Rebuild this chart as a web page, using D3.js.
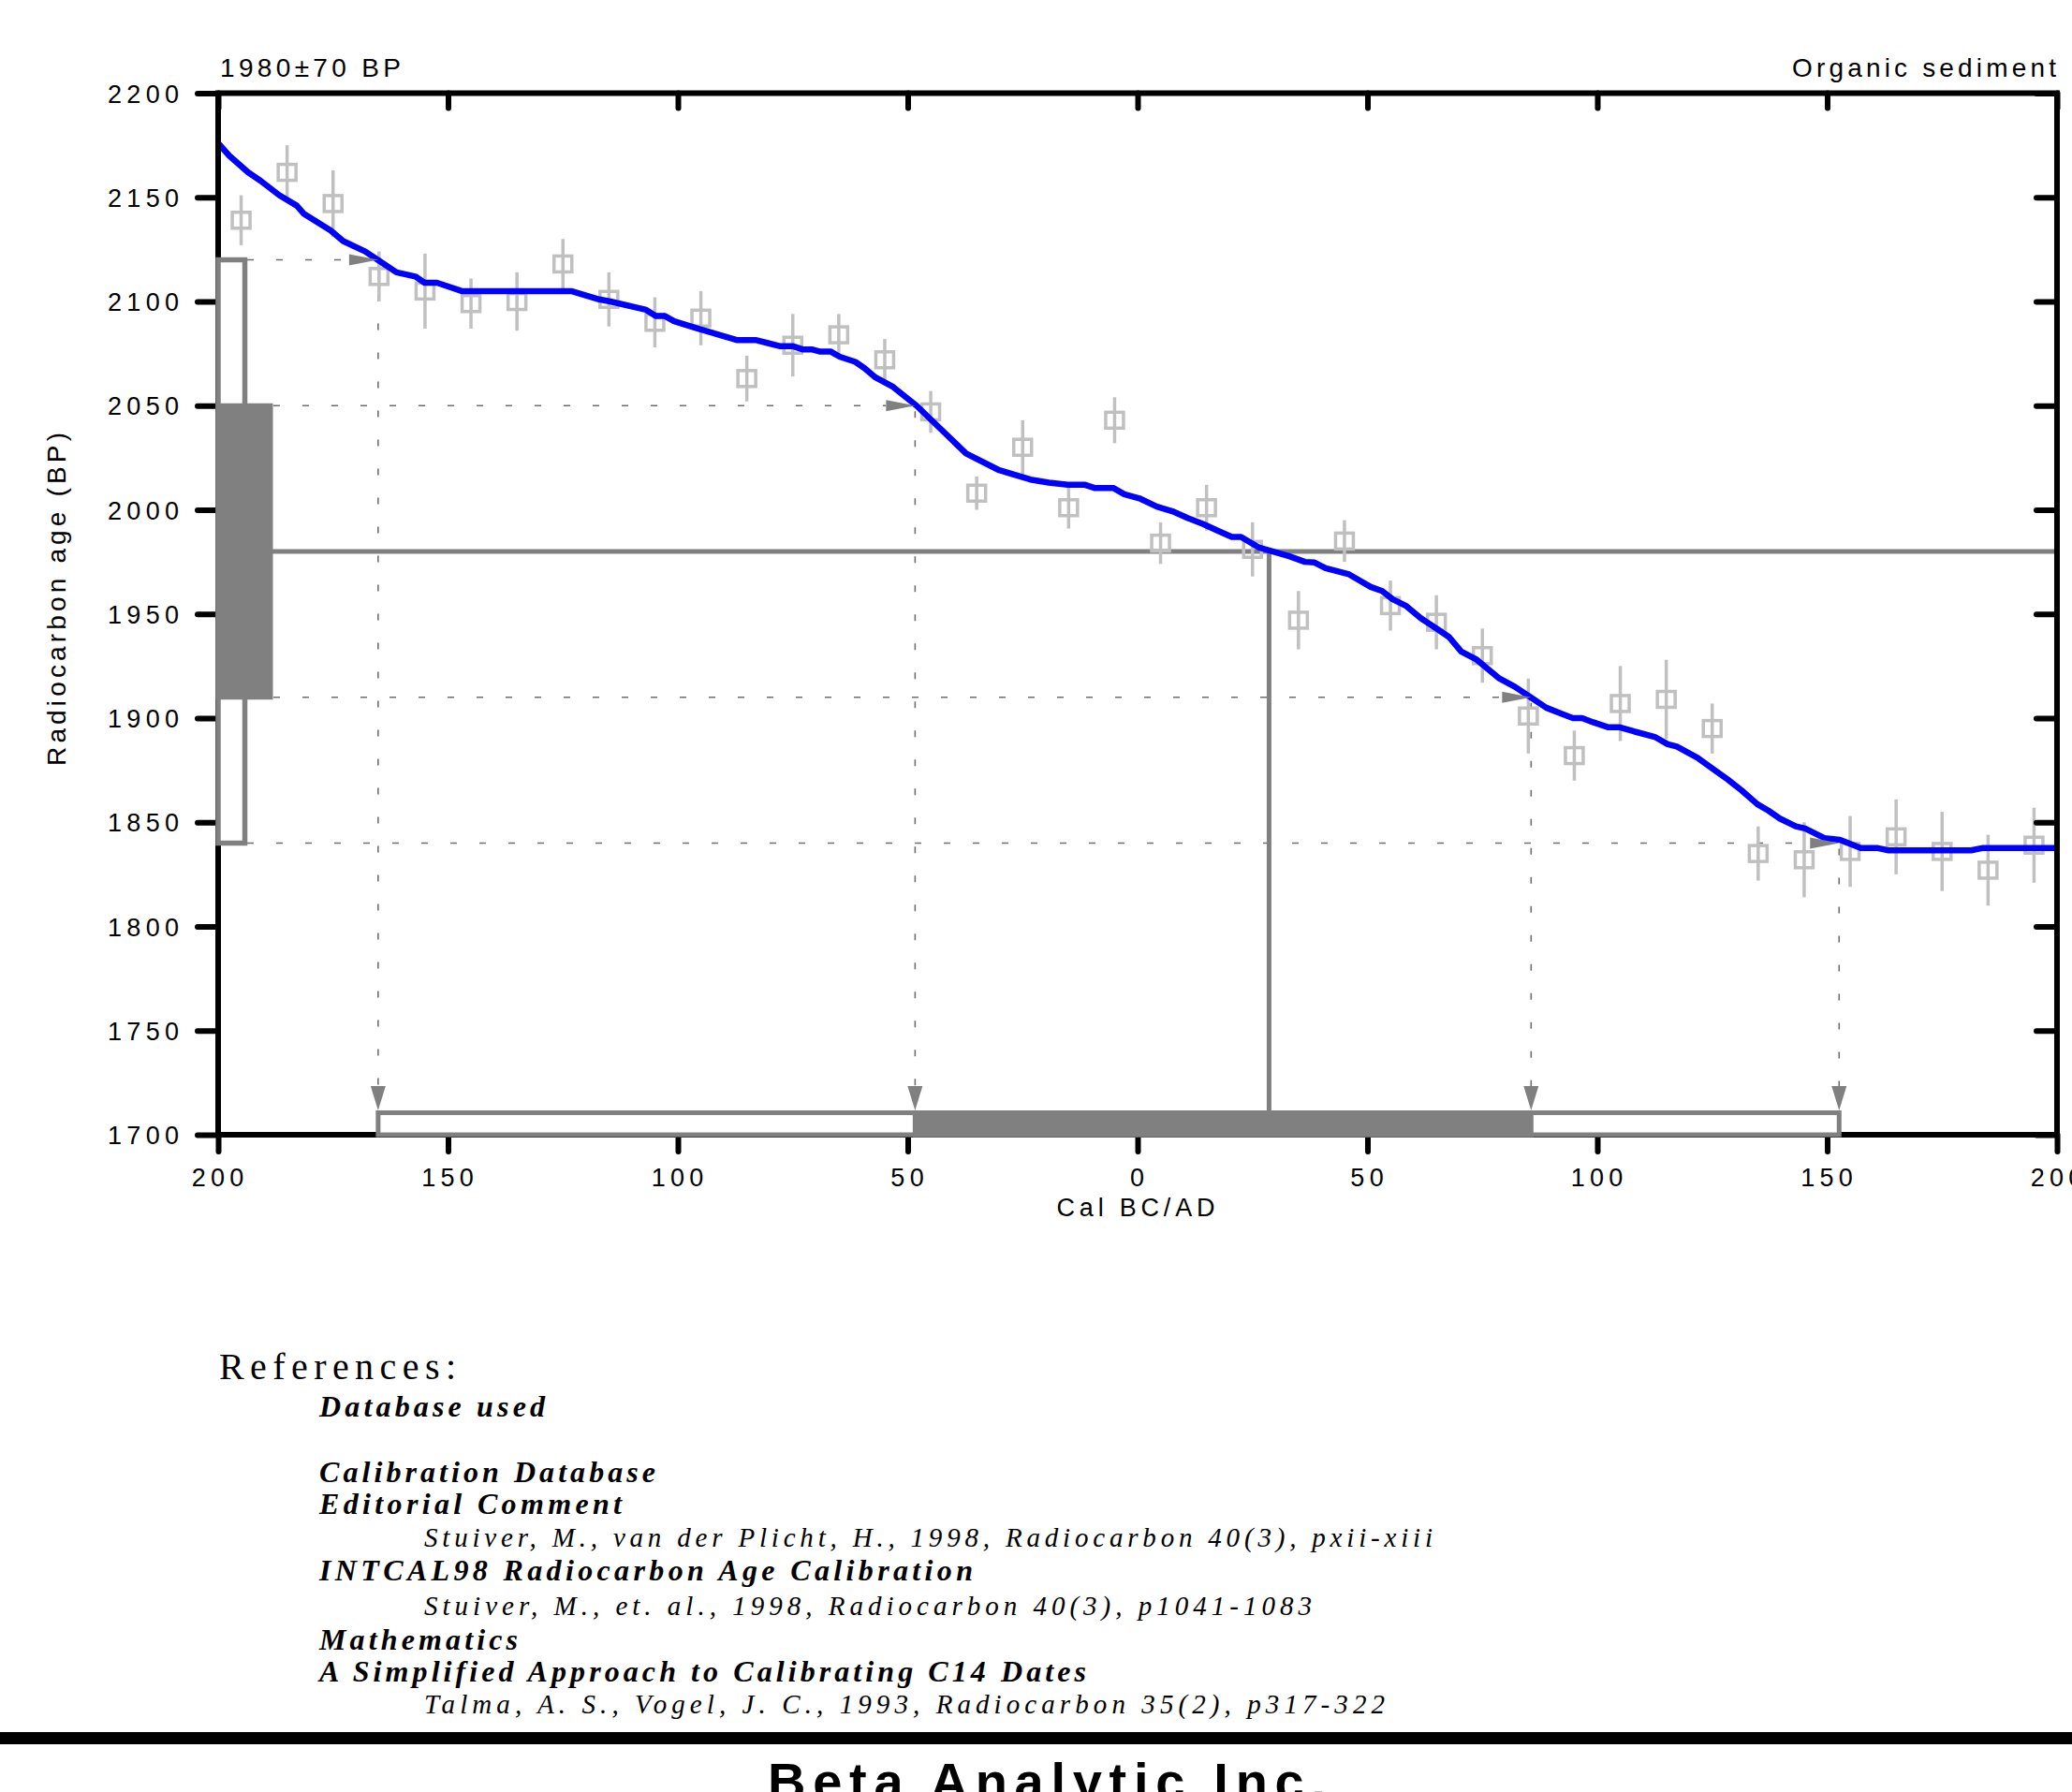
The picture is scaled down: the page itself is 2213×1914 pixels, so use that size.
<!DOCTYPE html>
<html>
<head>
<meta charset="utf-8">
<script src="https://cdn.jsdelivr.net/npm/d3@7"></script>
<style>
  html, body { margin: 0; padding: 0; background: #fff; overflow: hidden; }
  svg { display: block; background: #fff; }
</style>
</head>
<body>
<svg id="chart" width="2213" height="1914"></svg>
<script>
// sample
const sampleLabel = "1980\u00b170 BP";
const materialLabel = "Organic sediment";
const measuredAge = 1980;
const measuredSigma = 70;

// calibration curve (cal year, radiocarbon age)
const curveYears = [-200, -197.6, -193.5, -190.8, -186.7, -182.9, -181.3, -175.5, -172.8, -168, -165.3, -161.2, -157.1, -155.1, -152.4, -147, -123.2, -117.1, -114.7, -106.9, -104.8, -102.8, -100.8, -95.7, -87.2, -83.1, -80.4, -77.7, -74.9, -72.9, -70.9, -69.2, -66.8, -64.8, -61.4, -59.4, -57, -53.2, -48.1, -43.4, -37.3, -30.1, -23.3, -19.3, -15.2, -11.4, -9.4, -5.3, -2.9, 0.4, 4.2, 7.9, 11, 14.4, 17.4, 20.5, 22.5, 26.3, 28.6, 33, 36.4, 38.5, 40.9, 46, 50.7, 53.2, 55.5, 58.3, 61.6, 65, 67.7, 70.4, 73.8, 78.7, 82.1, 85.5, 88.9, 92.3, 94.7, 96.7, 99.1, 102.4, 104.9, 108, 112.5, 115.3, 117.3, 121.8, 124.9, 128.4, 131.4, 134.8, 137.2, 139.7, 143.2, 145.2, 149.4, 152.8, 157.3, 161, 163.4, 181.3, 183.7, 200];
const curveAges = [2176, 2170, 2162, 2158, 2151, 2146, 2142, 2134, 2129, 2124, 2120, 2114, 2112, 2109, 2109, 2105, 2105, 2101, 2100, 2096, 2093, 2093, 2090.5, 2087, 2081.5, 2081.5, 2080, 2078.5, 2078.5, 2077, 2077, 2076, 2076, 2073.5, 2071, 2068, 2063.5, 2059, 2050, 2040, 2027, 2019, 2014.5, 2013, 2012, 2012, 2010.5, 2010.5, 2007.5, 2005.5, 2001.5, 1999, 1996, 1993, 1990, 1987, 1987, 1982, 1980.5, 1977.7, 1975, 1974.7, 1972, 1969, 1963, 1961, 1957, 1954, 1948, 1943, 1939, 1932, 1928, 1919, 1915, 1910, 1905, 1902, 1900, 1900, 1898, 1895.6, 1895.6, 1893.6, 1891, 1887.5, 1886.3, 1881, 1876, 1870.5, 1865.3, 1858.7, 1855.6, 1851.8, 1848, 1847, 1842.4, 1841.6, 1837.6, 1837.6, 1836.5, 1836.5, 1837.6, 1837.6];

// decadal data points with 1 sigma errors
const pointYears = [-195, -185, -175, -165, -155, -145, -135, -125, -115, -105, -95, -85, -75, -65, -55, -45, -35, -25, -15, -5, 5, 15, 25, 35, 45, 55, 65, 75, 85, 95, 105, 115, 125, 135, 145, 155, 165, 175, 185, 195];
const pointAges = [2139, 2162, 2147, 2112, 2105, 2099, 2100, 2118, 2101, 2090, 2092, 2063, 2079, 2084, 2072, 2047, 2008, 2030, 2001, 2043, 1984, 2001, 1981, 1947, 1985, 1954, 1946, 1930, 1901, 1882, 1907, 1909, 1895, 1835, 1832, 1836, 1843, 1836, 1827, 1839];
const pointErrors = [12, 13, 16, 12, 18, 12, 14, 12, 13, 12, 13, 11, 15, 10, 10, 10, 8, 13, 10, 11, 10, 11, 13, 14, 10, 12, 13, 13, 18, 12, 18, 19, 12, 13, 18, 17, 18, 19, 17, 18];

// calibrated result
const interceptYear = 28.6;
const oneSigmaYears = [-48.4, 85.6];
const twoSigmaYears = [-165.2, 152.6];

// axes
const xTicks = [-200, -150, -100, -50, 0, 50, 100, 150, 200];
const yTicks = [1700, 1750, 1800, 1850, 1900, 1950, 2000, 2050, 2100, 2150, 2200];
const xTitle = "Cal BC/AD";
const yTitle = "Radiocarbon age (BP)";

// references block
const refTitle = "References:";
const refLines = [
  "Database used",
  "Calibration Database",
  "Editorial Comment",
  "Stuiver, M., van der Plicht, H., 1998, Radiocarbon 40(3), pxii-xiii",
  "INTCAL98 Radiocarbon Age Calibration",
  "Stuiver, M., et. al., 1998, Radiocarbon 40(3), p1041-1083",
  "Mathematics",
  "A Simplified Approach to Calibrating C14 Dates",
  "Talma, A. S., Vogel, J. C., 1993, Radiocarbon 35(2), p317-322"
];
const footerText = "Beta Analytic Inc.";

// ---------------------------------------------------------------
const SANS = '"Liberation Sans", Arial, sans-serif';
const SERIF = '"Liberation Serif", "Times New Roman", serif';
const GREY = "#808080";
const LIGHT = "#c0c0c0";

const svg = d3.select("#chart");
const W = 2213;

const x = d3.scaleLinear().domain([-200, 200]).range([233, 2197]);
const y = d3.scaleLinear().domain([1700, 2200]).range([1212, 99.5]);
const x0 = x.range()[0], x1 = x.range()[1];
const yBot = y.range()[0], yTop = y.range()[1];

// box sizes along the axes
const yBoxOuter = 31, yBoxInner = 59;   // widths of the 2 sigma / 1 sigma boxes on the y axis
const xBoxTop = yBot - 26;             // top of the boxes on the x axis
const arrowLen = 31, arrowHalf = 6;
const vArrowLen = 26, vArrowHalf = 8;

// text with stretched letter spacing to a fixed width
function spacedText(g, str, opts) {
  const t = g.append("text")
    .attr("font-family", opts.family)
    .attr("font-size", opts.size)
    .attr("font-weight", opts.weight || "normal")
    .attr("font-style", opts.style || "normal")
    .attr("fill", "#000")
    .text(str);
  let x = opts.x;
  if (opts.anchor === "middle") x -= opts.width / 2;
  if (opts.anchor === "end") x -= opts.width;
  t.attr("x", x).attr("y", opts.y)
    .attr("textLength", opts.width)
    .attr("lengthAdjust", "spacing");
  return t;
}

// dotted guide lines
const levels = [
  { age: measuredAge + 2 * measuredSigma, year: twoSigmaYears[0], from: x0 + yBoxOuter },
  { age: measuredAge + measuredSigma, year: oneSigmaYears[0], from: x0 + yBoxInner },
  { age: measuredAge - measuredSigma, year: oneSigmaYears[1], from: x0 + yBoxInner },
  { age: measuredAge - 2 * measuredSigma, year: twoSigmaYears[1], from: x0 + yBoxOuter }
];
const guides = svg.append("g")
  .attr("stroke", "#6e6e6e").attr("stroke-width", 1.6).attr("stroke-dasharray", "7 24").attr("fill", "none");
levels.forEach(l => {
  guides.append("line")
    .attr("x1", l.from).attr("x2", x(l.year) - arrowLen)
    .attr("y1", y(l.age)).attr("y2", y(l.age));
  guides.append("line")
    .attr("x1", x(l.year)).attr("x2", x(l.year))
    .attr("y1", y(l.age) + 6).attr("y2", xBoxTop - vArrowLen);
});

// measured age line and intercept
svg.append("line")
  .attr("x1", x0).attr("x2", x1)
  .attr("y1", y(measuredAge)).attr("y2", y(measuredAge))
  .attr("stroke", GREY).attr("stroke-width", 5);
svg.append("line")
  .attr("x1", x(interceptYear)).attr("x2", x(interceptYear))
  .attr("y1", y(measuredAge)).attr("y2", yBot)
  .attr("stroke", GREY).attr("stroke-width", 5);

// data points
const points = pointYears.map((yr, i) => ({ yr, age: pointAges[i], err: pointErrors[i] }));
const pts = svg.append("g").attr("stroke", LIGHT).attr("fill", "none").attr("stroke-width", 3.5);
pts.selectAll("line.err").data(points).join("line")
  .attr("class", "err")
  .attr("x1", d => x(d.yr)).attr("x2", d => x(d.yr))
  .attr("y1", d => y(d.age + d.err)).attr("y2", d => y(d.age - d.err));
pts.selectAll("rect").data(points).join("rect")
  .attr("x", d => x(d.yr) - 9.5).attr("y", d => y(d.age) - 8.5)
  .attr("width", 19).attr("height", 17);

// calibration curve
const curve = curveYears.map((yr, i) => [yr, curveAges[i]]);
svg.append("path")
  .datum(curve)
  .attr("fill", "none")
  .attr("stroke", "#0000ff")
  .attr("stroke-width", 6.5)
  .attr("stroke-linejoin", "round")
  .attr("d", d3.line().x(d => x(d[0])).y(d => y(d[1])));

// arrows
const arrows = svg.append("g").attr("fill", GREY);
levels.forEach(l => {
  const tx = x(l.year), ty = y(l.age);
  arrows.append("path")
    .attr("d", `M${tx},${ty} L${tx - arrowLen},${ty - arrowHalf} L${tx - arrowLen},${ty + arrowHalf} Z`);
  arrows.append("path")
    .attr("d", `M${tx},${xBoxTop} L${tx - vArrowHalf},${xBoxTop - vArrowLen} L${tx + vArrowHalf},${xBoxTop - vArrowLen} Z`);
});

// axes
function styleTicks(g) {
  g.select(".domain").remove();
  g.selectAll(".tick line")
    .attr("stroke", "#000").attr("stroke-width", 6).attr("stroke-linecap", "round");
}
const tickFont = 27, tickSpacing = 5.3;

const gLeft = svg.append("g")
  .attr("transform", `translate(${x0},0)`)
  .call(d3.axisLeft(y).tickValues(yTicks).tickSize(22).tickSizeOuter(0).tickFormat(d3.format("d")));
styleTicks(gLeft);
gLeft.attr("font-family", SANS).attr("font-size", tickFont);
gLeft.selectAll(".tick text").each(function () {
  const t = d3.select(this);
  const n = t.text().length;
  const L = this.getComputedTextLength() + (n - 1) * tickSpacing;
  t.attr("text-anchor", "start").attr("x", -42 - L).attr("dy", "0.36em")
    .attr("textLength", L).attr("lengthAdjust", "spacing").attr("fill", "#000");
});

const gRight = svg.append("g")
  .attr("transform", `translate(${x1},0)`)
  .call(d3.axisRight(y).tickValues(yTicks).tickSize(-22).tickSizeOuter(0).tickFormat(""));
styleTicks(gRight);

const gBottom = svg.append("g")
  .attr("transform", `translate(0,${yBot})`)
  .call(d3.axisBottom(x).tickValues(xTicks).tickSize(18).tickSizeOuter(0).tickFormat(d => Math.abs(d)));
styleTicks(gBottom);
gBottom.attr("font-family", SANS).attr("font-size", tickFont);
gBottom.selectAll(".tick text").each(function () {
  const t = d3.select(this);
  const n = t.text().length;
  const L = this.getComputedTextLength() + (n - 1) * tickSpacing;
  t.attr("text-anchor", "start").attr("x", -L / 2 - 1).attr("y", 55).attr("dy", 0)
    .attr("textLength", L).attr("lengthAdjust", "spacing").attr("fill", "#000");
});

const gTop = svg.append("g")
  .attr("transform", `translate(0,${yTop})`)
  .call(d3.axisTop(x).tickValues(xTicks).tickSize(-16).tickSizeOuter(0).tickFormat(""));
styleTicks(gTop);

// frame
svg.append("rect")
  .attr("x", x0).attr("y", yTop)
  .attr("width", x1 - x0).attr("height", yBot - yTop)
  .attr("fill", "none").attr("stroke", "#000").attr("stroke-width", 6);

// sigma boxes on the y axis (drawn over the axis)
svg.append("rect")
  .attr("x", x0).attr("y", y(measuredAge + 2 * measuredSigma))
  .attr("width", yBoxOuter - 2.5)
  .attr("height", y(measuredAge - 2 * measuredSigma) - y(measuredAge + 2 * measuredSigma))
  .attr("fill", "#fff").attr("stroke", GREY).attr("stroke-width", 5.5);
svg.append("rect")
  .attr("x", x0).attr("y", y(measuredAge + measuredSigma))
  .attr("width", yBoxInner - 3)
  .attr("height", y(measuredAge - measuredSigma) - y(measuredAge + measuredSigma))
  .attr("fill", GREY).attr("stroke", GREY).attr("stroke-width", 5);

// calibrated ranges on the x axis
svg.append("rect")
  .attr("x", x(twoSigmaYears[0])).attr("y", xBoxTop + 2.5)
  .attr("width", x(twoSigmaYears[1]) - x(twoSigmaYears[0]))
  .attr("height", yBot - xBoxTop - 2.5)
  .attr("fill", "#fff").attr("stroke", GREY).attr("stroke-width", 5);
svg.append("rect")
  .attr("x", x(oneSigmaYears[0])).attr("y", xBoxTop + 2.5)
  .attr("width", x(oneSigmaYears[1]) - x(oneSigmaYears[0]))
  .attr("height", yBot - xBoxTop - 2.5)
  .attr("fill", GREY).attr("stroke", GREY).attr("stroke-width", 5);

// titles
spacedText(svg, sampleLabel, { family: SANS, size: 28, x: 235, y: 82, width: 193 });
spacedText(svg, materialLabel, { family: SANS, size: 28, x: 2196, y: 82, width: 282, anchor: "end" });
spacedText(svg, xTitle, { family: SANS, size: 27, x: 1213, y: 1299, width: 169, anchor: "middle" });
const yt = svg.append("g").attr("transform", "translate(70,640) rotate(-90)");
spacedText(yt, yTitle, { family: SANS, size: 28, x: 0, y: 0, width: 356, anchor: "middle" });

// references
spacedText(svg, refTitle, { family: SERIF, size: 40, x: 234, y: 1473, width: 253 });
const refLayout = [
  { y: 1513, w: 241, cite: false },
  { y: 1583, w: 359, cite: false },
  { y: 1617, w: 323, cite: false },
  { y: 1652, w: 1077, cite: true },
  { y: 1688, w: 698, cite: false },
  { y: 1725, w: 948, cite: true },
  { y: 1762, w: 212, cite: false },
  { y: 1796, w: 819, cite: false },
  { y: 1830, w: 1026, cite: true }
];
refLines.forEach((s, i) => {
  const l = refLayout[i];
  spacedText(svg, s, {
    family: SERIF,
    size: l.cite ? 29 : 32,
    weight: l.cite ? "normal" : "bold",
    style: "italic",
    x: l.cite ? 453 : 341,
    y: l.y,
    width: l.w
  });
});

// footer
svg.append("rect").attr("x", 0).attr("y", 1850).attr("width", W).attr("height", 13).attr("fill", "#000");
spacedText(svg, footerText, { family: SANS, size: 56, weight: "bold", x: 820, y: 1922, width: 596 });
</script>
</body>
</html>
